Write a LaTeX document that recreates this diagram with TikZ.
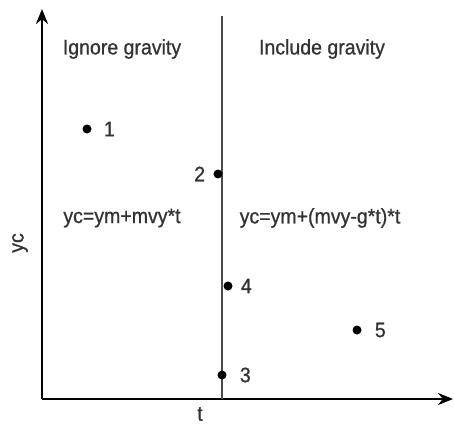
\documentclass[tikz,border=0pt]{standalone}
\usepackage{fontspec}
\setmainfont{Liberation Sans}[FakeStretch=0.93, FakeBold=0.8]
\usetikzlibrary{arrows.meta, positioning}

\begin{document}
\begin{tikzpicture}[
    x=1pt, y=-1pt,
    dot/.style={circle, fill=black, inner sep=0pt, minimum size=9pt},
    txt/.style={font=\fontsize{21}{24}\selectfont, text=black!80, inner sep=0pt},
    axis/.style={-{Stealth[length=15pt, width=12pt]}, line width=2.8pt},
    divider/.style={line width=1.8pt, black!70}
]
\useasboundingbox (0,0) rectangle (454,425);

% axes
\coordinate (origin) at (42,399);
\coordinate (ytip) at (42,9);
\coordinate (xtip) at (453,399);
\coordinate (top) at (222,16);
\coordinate (foot) at (222,399);
\draw[axis] (origin) -- (ytip);
\draw[axis] (origin) -- (xtip);
\draw[divider] (foot) -- (top);

\node[txt] (tlab) at (200,414) {t};
\node[txt, rotate=90] (yclab) at (20,243) {yc};

% regions
\node[txt] (ignore) at (122,49) {Ignore gravity};
\node[txt] (include) at (322,49) {Include gravity};
\node[txt] (eqleft) at (122,218) {yc=ym+mvy*t};
\node[txt] (eqright) at (320,218) {yc=ym+(mvy-g*t)*t};

% points
\node[dot] (p1) at (87,129) {};
\node[dot] (p2) at (218,174) {};
\node[dot] (p3) at (222,375) {};
\node[dot] (p4) at (228,286) {};
\node[dot] (p5) at (357,330) {};

\node[txt, right=12pt of p1] (n1) {1};
\node[txt, left=8pt of p2] (n2) {2};
\node[txt, right=13pt of p3] (n3) {3};
\node[txt, right=8pt of p4] (n4) {4};
\node[txt, right=13pt of p5] (n5) {5};

\end{tikzpicture}
\end{document}
